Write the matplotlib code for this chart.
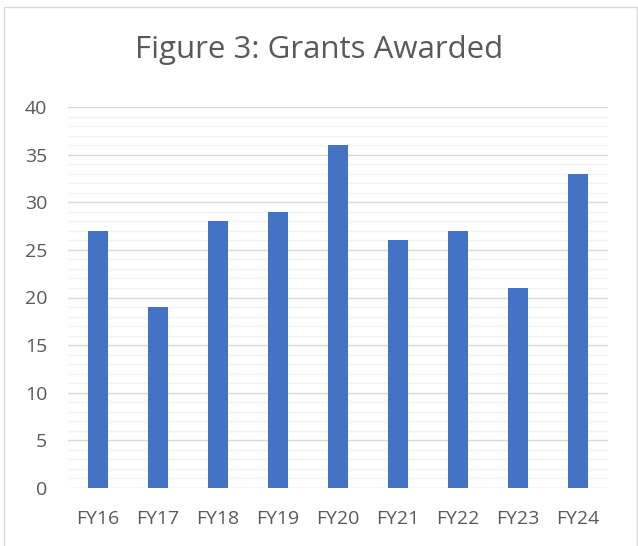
import matplotlib
matplotlib.use('Agg')
import matplotlib.pyplot as plt
import matplotlib.patches as patches
import numpy as np

# %% data
years = ['FY16', 'FY17', 'FY18', 'FY19', 'FY20', 'FY21', 'FY22', 'FY23', 'FY24']
grants = [27, 19, 28, 29, 36, 26, 27, 21, 33]

plt.rcParams['font.family'] = ['Open Sans', 'DejaVu Sans']

# %% plot
fig = plt.figure(figsize=(6.38, 5.46), dpi=100)
ax = fig.add_axes([68/638, 58/546, 540/638, 381/546])

x = np.arange(len(years))
ax.bar(x, grants, width=0.33, color='#4472C4', zorder=3)

ax.set_xlim(-0.5, len(years) - 0.5)
ax.set_ylim(0, 40)
ax.set_yticks(np.arange(0, 41, 5))
ax.set_yticks(np.arange(0, 41, 1), minor=True)
ax.set_xticks(x)
ax.set_xticklabels(years)

ax.grid(axis='y', which='major', color='#D9D9D9', linewidth=1.0, zorder=0)
ax.grid(axis='y', which='minor', color='#F2F2F2', linewidth=1.0, zorder=0)
for s in ax.spines.values():
    s.set_visible(False)
ax.tick_params(axis='both', which='both', length=0, labelsize=14,
               labelcolor='#595959')
ax.tick_params(axis='x', pad=16)
ax.tick_params(axis='y', pad=15)

fig.text(0.5, 1 - 50/546, 'Figure 3: Grants Awarded', ha='center', va='center',
         fontsize=22.5, color='#595959')

# chart border
border = patches.Rectangle((4/638, -0.01), 633/638, 1 - 7/546 + 0.01,
                           transform=fig.transFigure, fill=False,
                           edgecolor='#D9D9D9', linewidth=1.0)
fig.patches.append(border)

fig.savefig('out.png', dpi=100)
